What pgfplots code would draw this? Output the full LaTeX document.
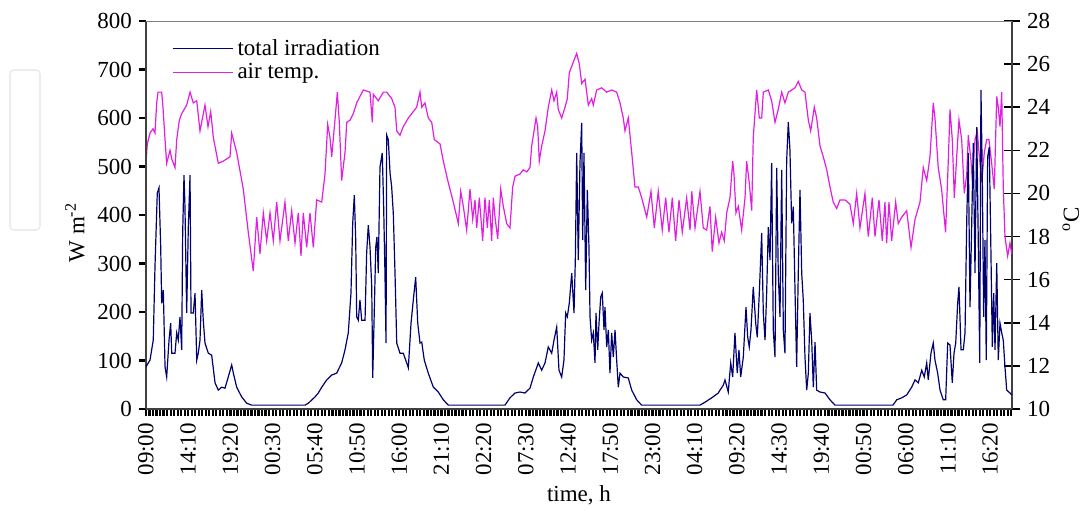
\documentclass[border=0pt]{standalone}
\usepackage{fontspec}
\setmainfont{Liberation Serif}
\usepackage{pgfplots}
\pgfplotsset{compat=1.18}
\definecolor{irrad}{RGB}{0,0,110}
\definecolor{airt}{RGB}{225,30,225}
\begin{document}
\begin{tikzpicture}
\useasboundingbox (-73pt,-50.5pt) rectangle (470pt,204.5pt);
\pgfplotsset{
  every axis/.append style={
    width=433pt, height=194pt, scale only axis,
    xmin=0, xmax=106,
    axis line style={black!75, line width=1pt},
    tick label style={font=\fontsize{11.5}{13}\selectfont},
    label style={font=\fontsize{11.5}{13}\selectfont},
    /pgf/number format/assume math mode=true,
  },
}
% right axis: air temperature
\begin{axis}[
  axis y line*=right, axis x line=none,
  ymin=10, ymax=28, ytick={10,12,...,28},
  tick align=center, major tick length=8pt,
  tick style={line width=0.8pt, black},
  ylabel={\textsuperscript{o}C},
  ylabel style={at={(axis description cs:1.068,0.49)}, anchor=center},
]
\addplot[airt, line width=0.6pt] coordinates {
(0.00,21.4) (0.16,22.3) (0.49,22.8) (0.86,23.0) (1.10,22.8) (1.31,24.2) (1.47,24.7) (1.92,24.7)
(2.08,24.0) (2.33,22.5) (2.53,21.4) (2.94,22.0) (3.15,21.6) (3.55,21.2) (3.76,22.5) (4.08,23.4)
(4.37,23.7) (4.98,24.1) (5.39,24.7) (5.79,24.2) (6.21,24.3) (6.61,22.9) (7.22,24.1) (7.59,23.1)
(7.92,23.8) (8.24,22.6) (8.85,21.4) (9.46,21.5) (10.28,21.7) (10.49,22.8) (11.10,21.9) (11.91,20.2)
(12.52,18.2) (13.13,16.4) (13.55,18.9) (13.95,17.2) (14.36,19.1) (14.77,17.8) (15.18,19.1) (15.58,17.8)
(16.00,19.6) (16.40,17.8) (17.01,19.6) (17.42,17.8) (17.83,19.2) (18.24,17.7) (18.64,19.1) (18.97,17.1)
(19.25,19.1) (19.67,17.5) (20.07,19.1) (20.48,17.5) (20.89,19.7) (21.51,19.6) (21.91,20.9) (22.24,23.2)
(22.52,22.6) (22.73,21.7) (23.13,23.4) (23.42,24.7) (23.66,23.3) (23.95,20.6) (24.36,21.9) (24.57,23.3)
(24.97,23.4) (25.37,23.7) (25.79,24.2) (26.19,24.5) (26.60,24.8) (27.42,24.7) (27.70,23.3) (27.82,24.6)
(28.43,24.3) (29.05,24.7) (29.46,24.7) (30.07,24.4) (30.48,24.0) (30.69,22.9) (31.09,22.7) (31.49,23.1)
(32.11,23.5) (32.72,23.8) (33.13,24.0) (33.54,24.7) (33.75,24.0) (34.15,24.2) (34.55,23.5) (34.97,23.3)
(35.29,22.5) (35.99,22.3) (36.39,21.5) (37.00,20.5) (37.61,19.6) (38.23,18.6) (38.52,20.1) (38.84,19.4)
(39.25,18.3) (39.66,20.2) (39.99,18.8) (40.27,19.7) (40.48,18.4) (40.80,19.8) (41.21,17.8) (41.49,19.8)
(41.78,18.4) (42.02,19.7) (42.31,17.8) (42.51,19.8) (42.72,18.9) (43.05,17.9) (43.42,20.2) (43.74,19.4)
(44.15,18.6) (44.55,18.4) (44.88,20.3) (45.17,20.8) (45.78,20.9) (46.18,21.1) (46.60,21.0) (47.00,21.2)
(47.21,22.2) (47.74,23.5) (47.94,23.1) (48.14,21.5) (48.43,22.2) (48.84,22.9) (49.24,24.0) (49.66,24.8)
(49.94,24.3) (50.27,24.7) (50.46,23.9) (50.88,23.5) (51.29,24.0) (51.57,24.4) (51.81,25.6) (52.11,25.9)
(52.51,26.3) (52.72,26.5) (53.04,26.0) (53.33,25.1) (53.74,25.3) (54.14,24.1) (54.55,24.4) (54.75,24.1)
(55.16,24.8) (55.77,24.9) (56.39,24.7) (57.00,24.8) (57.61,24.7) (58.02,24.2) (58.42,23.5) (58.63,22.9)
(59.03,23.5) (59.45,21.9) (59.85,20.3) (60.26,20.3) (60.67,19.8) (61.29,18.9) (61.81,20.1) (62.22,18.4)
(62.70,20.1) (63.19,18.3) (63.61,19.8) (64.01,18.2) (64.42,19.8) (64.83,17.8) (65.24,19.7) (65.64,18.2)
(66.18,19.8) (66.59,18.3) (66.80,20.1) (67.20,18.4) (67.81,20.1) (68.21,18.4) (68.63,18.3) (69.03,19.4)
(69.31,17.3) (69.73,18.9) (70.13,17.7) (70.46,18.2) (70.78,17.8) (71.08,19.1) (71.48,19.8) (71.81,21.5)
(71.97,20.9) (72.21,19.1) (72.50,19.4) (72.91,18.3) (73.32,19.8) (73.52,21.5) (73.84,20.5) (74.14,19.2)
(74.33,22.6) (74.75,24.8) (75.07,23.5) (75.36,23.5) (75.56,24.7) (76.17,24.8) (76.58,24.3) (76.99,23.3)
(77.39,23.9) (77.81,24.7) (78.21,24.2) (78.62,24.7) (79.03,24.8) (79.44,24.9) (79.84,25.2) (80.26,24.8)
(80.66,24.7) (81.07,23.4) (81.36,22.9) (81.80,24.0) (82.09,23.5) (82.50,22.2) (82.90,21.7) (83.32,21.1)
(83.72,20.3) (84.12,19.6) (84.54,19.3) (84.94,19.7) (85.56,19.7) (86.17,19.5) (86.57,18.6) (86.99,20.0)
(87.39,18.4) (88.00,20.0) (88.41,18.0) (88.90,19.8) (89.23,18.0) (89.72,19.7) (90.12,17.8) (90.45,19.6)
(90.66,17.7) (90.94,19.6) (91.27,17.8) (91.76,19.6) (92.08,18.6) (92.50,18.9) (93.11,19.2) (93.64,17.5)
(94.13,18.8) (94.74,19.6) (95.14,21.2) (95.56,20.6) (95.96,21.7) (96.36,24.2) (96.57,23.5) (96.97,21.2)
(97.38,20.2) (97.87,18.2) (98.20,21.5) (98.41,23.9) (98.69,22.5) (98.94,19.8) (99.23,21.7) (99.51,23.4)
(99.84,22.5) (100.16,20.0) (100.46,20.9) (100.65,22.7) (100.98,21.5) (101.14,20.6) (101.47,22.5) (101.75,22.9)
(101.96,21.9) (102.29,20.5) (102.61,21.9) (102.90,22.5) (103.18,22.5) (103.51,21.4) (103.83,20.2) (104.13,24.5)
(104.32,24.0) (104.53,23.1) (104.74,24.7) (104.93,20.3) (105.14,18.0) (105.47,17.1) (105.75,17.7) (105.96,17.2)
};
\end{axis}
% left axis: total irradiation
\begin{axis}[
  axis y line*=left, axis x line*=bottom,
  ymin=0, ymax=800, ytick={0,100,...,800},
  tick align=outside, major tick length=3.5pt, minor tick length=3.5pt,
  tick style={line width=1.1pt, black},
  xtick={0,5.1667,10.3333,15.5,20.6667,25.8333,31,36.1667,41.3333,46.5,51.6667,
         56.8333,62,67.1667,72.3333,77.5,82.6667,87.8333,93,98.1667,103.3333},
  xticklabels={09:00,14:10,19:20,00:30,05:40,10:50,16:00,21:10,02:20,07:30,12:40,
               17:50,23:00,04:10,09:20,14:30,19:40,00:50,06:00,11:10,16:20},
  minor xtick={0,0.43056,...,106},
  x tick label style={rotate=90, anchor=east},
  xlabel={time, h},
  xlabel style={at={(axis description cs:0.5,-0.2216)}, anchor=center},
  ylabel={W m\textsuperscript{-2}},
  ylabel style={at={(axis description cs:-0.082,0.455)}, anchor=center},
  legend style={draw=none, fill=none, at={(axis description cs:0.023,0.975)}, anchor=north west,
    font=\fontsize{11.5}{13}\selectfont, row sep=-1.5pt},
  legend cell align=left,
  legend image code/.code={\draw[#1] (0pt,0pt) -- (25pt,0pt); \path (0pt,0pt) -- (30pt,0pt);},
]
\draw[gray, line width=0.8pt] (rel axis cs:0,1) -- (rel axis cs:1,1);
\addplot[irrad, line width=0.6pt] coordinates {
(0.00,87) (0.49,101) (0.89,142) (1.10,293) (1.38,445) (1.59,456) (1.80,334) (1.92,218)
(2.12,245) (2.33,87) (2.53,66) (2.82,142) (3.02,177) (3.15,115) (3.55,115) (3.76,157)
(3.95,142) (4.16,190) (4.37,122) (4.49,363) (4.65,482) (4.77,417) (4.98,198) (5.18,375)
(5.39,482) (5.51,198) (5.79,198) (6.00,239) (6.21,101) (6.40,115) (6.61,142) (6.82,245)
(7.01,183) (7.22,136) (7.63,115) (8.04,111) (8.45,54) (8.85,39) (9.27,45) (9.67,43)
(10.07,66) (10.49,91) (10.69,74) (11.10,45) (11.71,25) (12.32,12) (12.93,8) (19.46,8)
(19.87,12) (20.69,25) (21.09,33) (21.51,45) (22.12,60) (22.73,70) (23.34,74) (23.95,95)
(24.36,122) (24.76,157) (25.09,239) (25.30,383) (25.50,441) (25.67,348) (25.79,190) (25.99,183)
(26.19,225) (26.40,183) (26.81,183) (27.01,322) (27.21,379) (27.42,334) (27.63,252) (27.75,64)
(27.91,177) (28.12,334) (28.27,355) (28.43,280) (28.64,499) (28.92,528) (29.09,417) (29.25,280)
(29.38,136) (29.46,565) (29.66,555) (29.87,487) (30.07,458) (30.27,404) (30.48,280) (30.69,136)
(31.09,115) (31.49,115) (31.91,95) (32.11,85) (32.44,177) (32.72,225) (33.01,272) (33.26,177)
(33.54,136) (33.75,138) (34.06,101) (34.55,74) (35.17,45) (35.78,35) (36.39,19) (37.00,8)
(43.94,8) (44.55,23) (45.17,33) (45.78,35) (46.39,33) (47.00,43) (47.41,66) (48.02,95)
(48.43,80) (48.84,95) (49.24,128) (49.66,115) (49.94,142) (50.27,169) (50.55,80) (50.88,66)
(51.16,101) (51.37,198) (51.57,190) (51.81,218) (52.11,280) (52.39,198) (52.55,307) (52.72,528)
(52.91,307) (53.12,507) (53.33,590) (53.45,348) (53.61,528) (53.82,245) (54.02,452) (54.22,334)
(54.35,190) (54.55,142) (54.75,157) (54.96,95) (55.08,198) (55.29,122) (55.45,177) (55.66,231)
(55.85,239) (56.06,163) (56.18,210) (56.39,128) (56.59,163) (56.79,74) (57.00,157) (57.20,107)
(57.41,163) (57.61,101) (57.81,45) (58.02,74) (58.42,66) (59.03,64) (59.45,39) (60.06,19)
(60.67,8) (67.81,8) (68.42,14) (69.24,23) (70.05,33) (70.26,39) (70.66,49) (70.87,60)
(71.27,35) (71.57,95) (71.81,66) (72.09,157) (72.37,74) (72.58,122) (72.79,66) (73.11,107)
(73.44,210) (73.65,148) (73.84,128) (74.05,163) (74.33,252) (74.63,177) (74.82,148) (75.07,239)
(75.36,363) (75.56,198) (75.77,142) (75.97,239) (76.17,375) (76.38,307) (76.58,507) (76.78,163)
(76.99,107) (77.20,497) (77.39,280) (77.60,190) (77.81,493) (78.01,163) (78.21,115) (78.42,513)
(78.62,592) (78.82,534) (79.03,383) (79.23,417) (79.44,245) (79.64,87) (79.84,280) (80.05,452)
(80.26,280) (80.45,225) (80.66,107) (80.87,39) (81.07,74) (81.27,198) (81.48,142) (81.68,45)
(81.89,138) (82.09,39) (82.50,35) (83.11,33) (83.72,19) (84.33,8) (91.43,8) (91.89,19)
(92.50,23) (93.11,29) (93.72,45) (94.13,60) (94.53,54) (94.95,80) (95.26,66) (95.56,95)
(95.75,60) (96.08,115) (96.36,136) (96.57,101) (96.90,74) (97.19,39) (97.59,19) (97.88,19)
(98.13,136) (98.41,132) (98.69,54) (98.90,115) (99.11,136) (99.35,218) (99.51,252) (99.76,122)
(100.04,122) (100.25,157) (100.46,390) (100.65,528) (100.86,210) (101.06,375) (101.26,548) (101.47,280)
(101.68,581) (101.87,348) (102.05,95) (102.20,658) (102.36,487) (102.53,190) (102.69,348) (102.85,101)
(103.02,520) (103.22,540) (103.43,313) (103.59,128) (103.76,239) (103.92,122) (104.13,301) (104.32,101)
(104.53,177) (104.74,157) (104.93,142) (105.14,87) (105.35,39) (105.75,33) (105.96,29)
};
\addlegendimage{airt, line width=0.6pt}
\legend{total irradiation, air temp.}
\end{axis}
\draw[gray!15, line width=0.8pt, rounded corners=2pt] (-68pt,89.5pt) rectangle (-53pt,169.5pt);
\end{tikzpicture}
\end{document}
